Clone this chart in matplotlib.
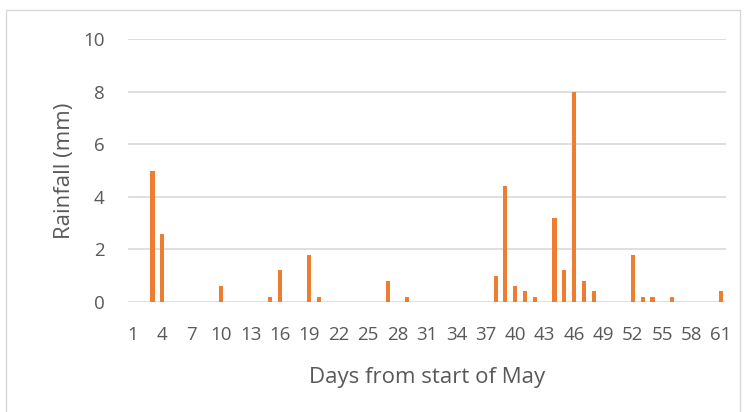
import numpy as np
import matplotlib.pyplot as plt
from matplotlib.patches import Rectangle

plt.rcParams['font.family'] = ['Open Sans', 'DejaVu Sans']

days = list(range(1, 62))
rain_mm = [0, 0, 5.0, 2.6, 0, 0, 0, 0, 0, 0.6,
           0, 0, 0, 0, 0.2, 1.2, 0, 0, 1.8, 0.2,
           0, 0, 0, 0, 0, 0, 0.8, 0, 0.2, 0,
           0, 0, 0, 0, 0, 0, 0, 1.0, 4.4, 0.6,
           0.4, 0.2, 0, 3.2, 1.2, 8.0, 0.8, 0.4, 0, 0,
           0, 1.8, 0.2, 0.2, 0, 0.2, 0, 0, 0, 0,
           0.4]
tick_days = list(range(1, 62, 3))

txt = '#595959'
fig = plt.figure(figsize=(7.51, 4.12), dpi=100)
ax = fig.add_axes([128/751, 110/412, 598/751, 263/412])

ax.bar(days, rain_mm, width=0.42, color='#ED7D31', zorder=3)
ax.set_xlim(0.5, 61.5)
ax.set_ylim(0, 10)
ax.set_yticks(range(0, 11, 2))
ax.set_xticks(tick_days)
ax.grid(axis='y', color='#D9D9D9', linewidth=1.2, zorder=0)
for s in ax.spines.values():
    s.set_visible(False)
ax.tick_params(length=0, labelsize=13.5, colors=txt)
ax.tick_params(axis='y', pad=17)
ax.tick_params(axis='x', pad=17)
ax.set_ylabel('Rainfall (mm)', fontsize=16, color=txt, labelpad=6)
ax.set_xlabel('Days from start of May', fontsize=16, color=txt, labelpad=17)

fig.patches.append(Rectangle((6/751, -0.01), 734/751, 1 - 10/412 + 0.01,
                             transform=fig.transFigure, fill=False,
                             edgecolor='#D9D9D9', linewidth=1))

plt.savefig('out.png', dpi=100)
